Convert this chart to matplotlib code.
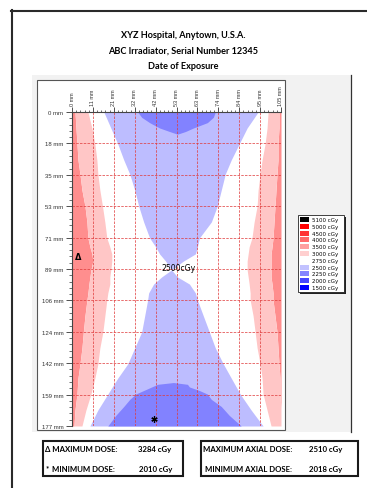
import matplotlib
matplotlib.use("Agg")
import matplotlib.pyplot as plt
from matplotlib.patches import Rectangle
from matplotlib.lines import Line2D
from matplotlib.ticker import AutoMinorLocator

W, H, DPI = 367, 489, 100

# ---------------- data ----------------
title_lines = ["XYZ Hospital, Anytown, U.S.A.",
               "ABC Irradiator, Serial Number 12345",
               "Date of Exposure"]

x_ticks_mm = [0, 10.5, 21, 31.5, 42, 52.5, 63, 73.5, 84, 94.5, 105]
x_tick_labels = ["0 mm", "11 mm", "21 mm", "32 mm", "42 mm", "53 mm",
                 "63 mm", "74 mm", "84 mm", "95 mm", "105 mm"]
y_ticks_mm = [0, 17.7, 35.4, 53.1, 70.8, 88.5, 106.2, 123.9, 141.6, 159.3, 177]
y_tick_labels = ["0 mm", "18 mm", "35 mm", "53 mm", "71 mm", "89 mm",
                 "106 mm", "124 mm", "142 mm", "159 mm", "177 mm"]

legend_labels = ["5100 cGy", "5000 cGy", "4500 cGy", "4000 cGy", "3500 cGy",
                 "3000 cGy", "2750 cGy", "2500 cGy", "2250 cGy", "2000 cGy",
                 "1500 cGy"]
legend_colors = ["#000000", "#FF0000", "#FF3535", "#FF6A6A", "#FF9E9E",
                 "#FFCFCF", "#FFFFFF", "#C2C2FF", "#8484FF", "#4646FF",
                 "#0000FF"]

# band colours used in the map
color_3000 = "#FF8E8E"
color_2750 = "#FFC6C6"
color_2500 = "#BDBDFF"
color_2250 = "#8282FF"

# isodose edges (mm) read per row
y_rows = [0, 9, 18, 27, 35, 44, 53, 62, 71, 76, 80, 84, 89, 93, 97, 102,
          106, 115, 124, 133, 142, 150, 159, 168, 177]
edge_3000_left = [1.5, 2, 2.5, 3, 4, 5, 6.5, 7.5, 8, 9, 10, 10.5, 9.5, 9,
                  8.5, 8, 7.5, 6.5, 5.7, 5, 4, 3, 2.5, 1.5, 1]
edge_2750_left = [8, 10, 11.5, 12.5, 13, 14, 15.3, 16.5, 17.5, 19, 20, 20,
                  19.5, 19, 19, 18, 17.5, 16.5, 15.5, 14, 13, 11.5, 9.5, 7, 5]
edge_2500_left = [16, 19.5, 23, 26, 29, 31.5, 33.5, 36, 39, 42, 44, 47, 50,
                  45, 41, 38.5, 38, 36.5, 35, 31.5, 28, 23, 18, 13, 9]
edge_2500_right = [93.5, 88, 84, 80, 77, 75, 73, 70, 64, 63, 62, 56, 50,
                   53, 59, 62, 63, 66, 69, 72, 76, 80, 84.5, 90, 96]
edge_2750_right = [98.5, 98, 97, 95.5, 94.5, 93.5, 93, 91.5, 90.4, 89, 88.5,
                   88, 88, 88.5, 89, 89.5, 89.5, 91, 92, 93, 94.5, 95.5, 96,
                   98, 100]
edge_3000_right = [104, 104, 103.5, 103.5, 103, 102.5, 102, 101.5, 101,
                   100.5, 100, 100, 100, 100, 100.5, 101, 101, 102, 103,
                   103.5, 104, 104.5, 104.5, 105, 105]

top_rows = [0, 3, 6, 9, 11, 12.5]
top_2250_left = [33, 35, 39, 44, 49, 53]
top_2250_right = [72, 71, 68, 61, 57, 53]

bottom_rows = [152.5, 153.5, 155, 157, 159, 162, 166, 171, 177]
bottom_2250_left = [51, 43, 40, 36, 32, 29, 26, 22, 18]
bottom_2250_right = [51, 58, 59, 64, 68, 70, 75, 79, 85]

max_dose, min_dose = 3284, 2010
max_axial_dose, min_axial_dose = 2510, 2018
max_point = (3.3, 81.2)
min_point = (41.2, 173.0)
center_label = "2500cGy"
center_point = (53.5, 87.5)

# ---------------- figure ----------------
fig = plt.figure(figsize=(W / DPI, H / DPI), dpi=DPI)


def fx(px):
    return px / W


def fy(py):
    return 1 - py / H


# outer frame
fig.add_artist(Line2D([fx(11.5), fx(11.5)], [fy(11), fy(489)],
                      color="#2a2a2a", lw=1.5))
fig.add_artist(Line2D([fx(11), fx(367)], [fy(11.5), fy(11.5)],
                      color="#2a2a2a", lw=1.5))

# title
for i, line in enumerate(title_lines):
    fig.text(fx(183), fy(35 + 16 * i), line, ha="center", va="center",
             fontsize=6.6, fontweight="bold", family=["Lato", "DejaVu Sans"])

# grey panel
fig.add_artist(Rectangle((fx(32), fy(433)), fx(351) - fx(32),
                         fy(76) - fy(433), transform=fig.transFigure,
                         facecolor="#F2F2F2", edgecolor="none", zorder=-2))
fig.add_artist(Line2D([fx(351), fx(351)], [fy(76), fy(433)],
                      color="#333333", lw=0.9, zorder=-1))
# white plot box
fig.add_artist(Rectangle((fx(37), fy(431)), fx(285) - fx(37),
                         fy(81) - fy(431), transform=fig.transFigure,
                         facecolor="white", edgecolor="#555555", lw=0.8,
                         zorder=-1))

ax = fig.add_axes([fx(72), fy(427), fx(281) - fx(72), fy(113) - fy(427)])
ax.set_zorder(3)
ax.set_xlim(0, 105)
ax.set_ylim(177, 0)
ax.patch.set_facecolor("white")

# bands
ax.fill_betweenx(y_rows, 0, edge_3000_left, color=color_3000, lw=0)
ax.fill_betweenx(y_rows, edge_3000_left, edge_2750_left, color=color_2750, lw=0)
ax.fill_betweenx(y_rows, edge_3000_right, 105, color=color_3000, lw=0)
ax.fill_betweenx(y_rows, edge_2750_right, edge_3000_right, color=color_2750, lw=0)
ax.fill_betweenx(y_rows, edge_2500_left, edge_2500_right, color=color_2500, lw=0)
ax.fill_betweenx(top_rows, top_2250_left, top_2250_right, color=color_2250, lw=0)
ax.fill_betweenx(bottom_rows, bottom_2250_left, bottom_2250_right,
                 color=color_2250, lw=0)

# ticks and grid
ax.xaxis.tick_top()
ax.set_xticks(x_ticks_mm)
ax.set_xticklabels(x_tick_labels, rotation=90, family="Liberation Sans")
ax.set_yticks(y_ticks_mm)
ax.set_yticklabels(y_tick_labels, family="Liberation Sans")
ax.xaxis.set_minor_locator(AutoMinorLocator(5))
ax.yaxis.set_minor_locator(AutoMinorLocator(5))
ax.tick_params(axis="x", which="major", direction="out", length=3.6,
               width=0.6, labelsize=4, pad=1.5, colors="#333333")
ax.tick_params(axis="x", which="minor", direction="out", length=1.8,
               width=0.5, colors="#333333")
ax.tick_params(axis="y", which="major", direction="out", length=4.3,
               width=0.6, labelsize=4.3, pad=2, colors="#333333")
ax.tick_params(axis="y", which="minor", direction="out", length=2.2,
               width=0.5, colors="#333333")
for side in ("right", "bottom"):
    ax.spines[side].set_visible(False)
for side in ("top", "left"):
    ax.spines[side].set_color("#444444")
    ax.spines[side].set_linewidth(0.8)
ax.grid(True, which="major", color="#E03A3A", linestyle=(0, (3, 1.5)),
        linewidth=0.6, alpha=0.85)

# markers and labels
ax.text(max_point[0], max_point[1], "\u0394", ha="center", va="center",
        fontsize=6, fontweight="bold", family="DejaVu Sans", zorder=4)
ax.plot([min_point[0]], [min_point[1]], marker=(6, 2, 0), ms=4.5,
        color="black", mew=0.9, zorder=4)
ax.text(center_point[0], center_point[1], center_label, ha="center",
        va="center", fontsize=5.6, family="DejaVu Sans", zorder=4)

# legend
lax = fig.add_axes([fx(297), fy(295), fx(346) - fx(297), fy(215) - fy(295)])
lax.set_zorder(3)
lax.set_xlim(297, 346)
lax.set_ylim(295, 215)
lax.axis("off")
lax.add_patch(Rectangle((299.5, 217.5), 46, 77, facecolor="#222222",
                        edgecolor="none"))
lax.add_patch(Rectangle((297.5, 215.5), 46, 77, facecolor="white",
                        edgecolor="#222222", lw=0.6))
for i, (lab, col) in enumerate(zip(legend_labels, legend_colors)):
    yc = 220.5 + 6.8 * i
    lax.add_patch(Rectangle((300, yc - 2.5), 8.5, 5, facecolor=col,
                            edgecolor="none"))
    lax.text(312, yc, lab, ha="left", va="center", fontsize=4,
             family="DejaVu Sans")

# footer boxes
for (x0, x1) in ((43, 183), (201, 357.5)):
    fig.add_artist(Rectangle((fx(x0), fy(477)), fx(x1) - fx(x0),
                             fy(442) - fy(477), transform=fig.transFigure,
                             facecolor="none", edgecolor="#1a1a1a", lw=1.5))

ffam = ["Lato", "DejaVu Sans"]
fkw = dict(fontsize=5.6, fontweight="bold", family=ffam, va="center")
fig.text(fx(45), fy(449.5), "\u0394 MAXIMUM DOSE:", **fkw)
fig.text(fx(138), fy(449.5), f"{max_dose} cGy", **fkw)
fig.text(fx(45.5), fy(468.5), "*", **fkw)
fig.text(fx(52), fy(469.5), "MINIMUM DOSE:", **fkw)
fig.text(fx(139), fy(470), f"{min_dose} cGy", **fkw)
fig.text(fx(203), fy(449.5), "MAXIMUM AXIAL DOSE:", **fkw)
fig.text(fx(309), fy(449.5), f"{max_axial_dose} cGy", **fkw)
fig.text(fx(205), fy(469.5), "MINIMUM AXIAL DOSE:", **fkw)
fig.text(fx(309), fy(470), f"{min_axial_dose} cGy", **fkw)

fig.savefig("out.png", dpi=DPI)
